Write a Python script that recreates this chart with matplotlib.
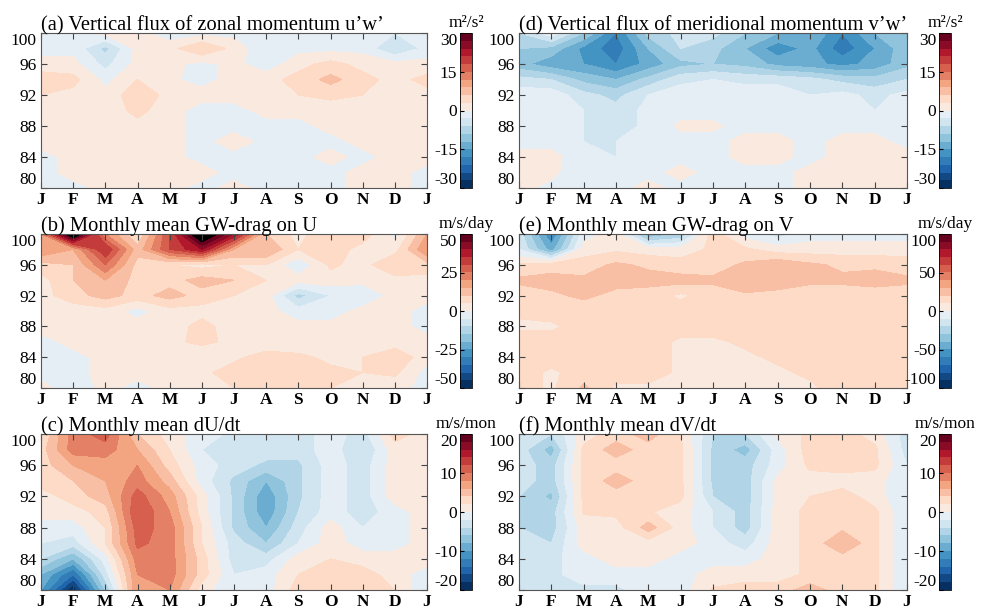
import numpy as np
import matplotlib
matplotlib.use('Agg')
from matplotlib import pyplot as plt
from matplotlib.colors import BoundaryNorm, ListedColormap
from matplotlib.cm import ScalarMappable

plt.rcParams['font.family'] = ['Liberation Serif', 'DejaVu Serif']

months = ['J', 'F', 'M', 'A', 'M', 'J', 'J', 'A', 'S', 'O', 'N', 'D', 'J']
heights = [100, 98, 96, 94, 92, 90, 88, 86, 84, 82, 80]   # rows top -> bottom

# (a) u'w'  [m2/s2]
uw = [
    [-3, -1, 1, 1, -2, -1, -1, -3, -1, -1, -1, -3, -2],
    [-1, -1, -7, 1, 2, 6, 2, -3, -1, -1, -1, -6, -2],
    [1, 1, -4, 1, 1, -1, 1, -2, 2, 4, 2, 1, 1],
    [5, 4, -1, 3, 0.5, -1, 1, 2, 4, 7, 4, 2, 4],
    [3, 2, 1, 5, 2, 1, 1, 1, 3, 4, 3, 1, 2],
    [2, 1, 1, 4, 1, -1, -1, 1, 1, 1, 1, 1, 3],
    [1, 1, 1, 2, 1, -1, -1, -1, -1, 1, 1, 1, 1],
    [1, 1, 1, 1, 1, -1, 1.5, -1, -1, -1, 1, 1, 1],
    [-1, 1, 1, 1, 1, -1, -1, -1, -1, 1, -1, 1, 1],
    [-1, 1, 1, 1, 1, 1, -1, -1, -1, -1, 1, 1, -1],
    [-1, -1, 1, 1, 1, -1, 1, -1, -1, -1, 1, 1, -1],
]

# (d) v'w'  [m2/s2]
vw = [
    [-6, -1, -9, -18, -8, -5, -5, -9, -12, -12, -18, -12, -9],
    [-9, -10, -16, -20, -12, -6, -8, -12, -17, -14, -20, -15, -10],
    [-11, -14, -15, -18, -14, -10, -9, -10, -13, -14, -16, -14, -10],
    [-5, -6, -10, -12, -8, -4, -3, -4, -4, -5, -7, -8, -6],
    [-1, -1, -5, -7, -3, -1, -1, -1, -1, -3, -2, -4, -2],
    [-1, -1, -3, -5, -2, -1, -1, -1, -1, -1, -1, -3, -1],
    [-1, -1, -3, -5, -2, 0.5, 0.5, -1, -1, -1, -1, -1, -1],
    [-1, -1, -3, -3, -1, -1, -1, 1, 1, -1, 1, 1, -1],
    [1, 1, -2, -3, -1, -1, -1, 1, 1, -1, 1, 1, 1],
    [1, 1, -3, -1, -1, 1, -1, -1, -1, 1, 1, 1, 1],
    [1, -1, -3, -1, 1, -1, -1, -1, -1, 1, 1, 1, 1],
]

# (b) GW-drag on U  [m/s/day]
gwu = [
    [20, 60, 20, 5, 30, 60, 40, 10, 3, 10, 8, -2, 15],
    [20, 15, 35, 12, 30, 40, 15, 15, 5, 8, 3, 3, 20],
    [8, 10, 25, 8, 5, 3, 5, 5, -4, 6, 3, 10, 8],
    [3, 10, 15, 8, 8, 12, 10, 5, 2, 3, 2, 3, 3],
    [3, 8, 12, 8, 12, 8, 5, 2, -12, -5, -5, 2, 2],
    [2, 2, 3, -2, 3, 3, 2, 2, -3, -3, 2, 2, -2],
    [2, 2, 2, 2, 2, 7, 2, 2, 2, 2, 2, 2, -2],
    [-2, 2, 2, 2, 4, 6, 4, 2, 2, 5, 2, 2, 2],
    [-2, -2, 2, 2, 2, 2, 4, 7, 6, 4, 5, 9, 2],
    [-2, -2, 2, 2, 2, 4, 7, 7, 7, 6, 5, 6, -2],
    [2, -4, 2, -2, 2, 2, 5, 9, 6, 5, 5, 2, -2],
]

# (e) GW-drag on V  [m/s/day]
gwv = [
    [-15, -60, -5, 5, -40, -30, 15, -5, -15, -5, -5, -5, -5],
    [-10, -45, 5, 8, 5, 5, 12, 12, 5, 5, 5, 5, 5],
    [12, 15, 15, 22, 18, 14, 15, 22, 28, 22, 18, 18, 15],
    [22, 24, 22, 24, 24, 24, 22, 29, 25, 22, 22, 24, 22],
    [15, 18, 22, 17, 15, 8, 15, 18, 17, 15, 15, 15, 15],
    [12, 15, 15, 15, 15, 15, 15, 15, 15, 15, 15, 15, 15],
    [8, 8, 15, 15, 15, 15, 15, 15, 15, 15, 15, 15, 15],
    [15, 15, 15, 15, 15, 8, 8, 12, 15, 15, 15, 15, 15],
    [15, 15, 15, 15, 15, 8, 8, 8, 12, 15, 15, 15, 15],
    [15, 8, 15, 15, 15, 8, 8, 8, 8, 12, 15, 15, 15],
    [15, 8, 22, 8, 8, 8, 8, 8, 8, 8, 15, 15, 15],
]

# (c) dU/dt  [m/s/mon]
dudt = [
    [2, 9, 11, 4, 1, -1, -2.5, -3, -3, -1, -3, 3, 1],
    [3, 9, 9, 6, 2, -2, -2.5, -3, -3, -1, -4, 1, 1],
    [3, 6, 7, 8, 3, -1, -3, -4.5, -4.5, -1, -3, 1, 1],
    [3, 4, 6, 9, 5, -1, -4.5, -8, -4.5, -1, -3, 1, 1],
    [1, 3, 5, 11, 7, 1, -4.5, -9.5, -4.5, -1, -3, 1, 1],
    [1, 1, 3, 12, 8, 1, -4.5, -9.5, -4, -1, -3, -1, 1],
    [-1, -1, 2, 11, 9, 2, -4.5, -8, -3, 1, -2, -1, 1],
    [-2, -3, 2, 10.5, 9, 2, -3, -6, -2, 1, -1, -1, 1],
    [-4, -8, -1, 9, 9, 3, -3, -3, 1, 2, 1, 1, 1],
    [-8, -14, -3, 8, 9, 3, -2, -1, 2, 3, 3, 1, -1],
    [-10, -20, -6, 8, 8, 1, -2, -1, 3, 4, 4, 2, -2],
]

# (f) dV/dt  [m/s/mon]
dvdt = [
    [-3, -4, 1, 3, 5, 2, -4, -4, 0.5, 2.5, 3, 1, -3],
    [-3, -7, 2.5, 5, 3, 2.5, -4.5, -7, -1, 3, 3, 2.5, -3],
    [-3, -5, 2.5, 3, 3, 2.5, -4.5, -5, -1, 2.5, 3, 2.5, -2],
    [-3, -5, 2.5, 5, 3, 2.5, -4.5, -5, 0.5, 1, 1, 1, -2],
    [-4, -6.5, 2.5, 3, 3, 2.5, -4, -5, 0.5, 2, 3, 1, -2],
    [-4, -5, 2.2, 2.5, 2.2, 1, -2, -5, 1, 2.5, 3, 2.5, -2],
    [-4, -5, 1, 1, 5, 1, -2, -5, 1, 2.5, 3.5, 2.5, -2],
    [-2.5, -4, 1, 1, 1, 1, -1, -3, 1, 2.5, 6, 2.5, -2],
    [-2.5, -2.5, -1, 1, 1, -1, -1, -1, 1, 2.5, 3, 2.5, -2],
    [-2.5, -2.5, -1, -1, -1, -1, 1, 1, 1, 2.5, 2.5, 2.5, -2],
    [-2.5, -2.5, -2.5, -2.5, -1, -1, 2.2, 3, 3, 5, 3, 2.5, -2],
]

panels = [
    ('(a) Vertical flux of zonal momentum u\u2019w\u2019', uw, 30, 15, 'm\u00b2/s\u00b2'),
    ('(d) Vertical flux of meridional momentum v\u2019w\u2019', vw, 30, 15, 'm\u00b2/s\u00b2'),
    ('(b) Monthly mean GW-drag on U', gwu, 50, 25, 'm/s/day'),
    ('(e) Monthly mean GW-drag on V', gwv, 100, 50, 'm/s/day'),
    ('(c) Monthly mean dU/dt', dudt, 20, 10, 'm/s/mon'),
    ('(f) Monthly mean dV/dt', dvdt, 20, 10, 'm/s/mon'),
]

W, H = 989, 615
fig = plt.figure(figsize=(W / 100, H / 100), dpi=100)

col_x = [(41, 427, 460, 472), (519, 907, 939, 951)]
row_y = [(33, 188), (234, 388), (434, 590)]

# 20-step red/blue map, first steps off white pushed a little away from the centre
base = plt.get_cmap('RdBu_r')
pos = np.concatenate([0.5 - 0.05 - 0.45 * np.arange(9, -1, -1) / 9,
                      0.5 + 0.05 + 0.45 * np.arange(10) / 9])
cmap = ListedColormap(base(pos))
cmap.set_over('black')
cmap.set_under('#02142e')

x = np.arange(len(months))
y = np.array(heights)


def pull_in_end_labels(labels):
    # first and last labels kept inside the axis span, as in the original
    labels[0].set_verticalalignment('bottom')
    labels[-1].set_verticalalignment('top')


for i, (title, data, vmax, tstep, unit) in enumerate(panels):
    r, c = divmod(i, 2)
    x0, x1, cx0, cx1 = col_x[c]
    y0, y1 = row_y[r]
    ax = fig.add_axes([x0 / W, 1 - y1 / H, (x1 - x0) / W, (y1 - y0) / H])
    levels = np.linspace(-vmax, vmax, 21)
    ax.contourf(x, y, np.array(data, dtype=float), levels=levels, cmap=cmap, extend='both')
    ax.set_xlim(0, 12)
    ax.set_ylim(80, 100)
    ax.set_xticks(x)
    ax.set_xticklabels(months, fontweight='bold')
    ax.set_yticks([80, 84, 88, 92, 96, 100])
    ax.set_yticklabels(['80', '84', '88', '92', '96', '100'])
    ax.tick_params(direction='in', top=True, right=True, labelsize=12.5, length=4, color='#444444', pad=3)
    pull_in_end_labels(ax.get_yticklabels())
    for sp in ax.spines.values():
        sp.set_color('#555555')
    ax.set_title(title, loc='left', fontsize=14.8, pad=2)

    cax = fig.add_axes([cx0 / W, 1 - y1 / H, (cx1 - cx0) / W, (y1 - y0) / H])
    sm = ScalarMappable(norm=BoundaryNorm(levels, 20), cmap=ListedColormap(base(pos)))
    cb = fig.colorbar(sm, cax=cax, ticks=[-vmax, -tstep, 0, tstep, vmax])
    cb.outline.set_linewidth(0.6)
    cax.minorticks_off()
    cax.yaxis.set_ticks_position('left')
    cax.tick_params(labelsize=12.5, length=3, direction='in', pad=2)
    cax.set_yticklabels([str(-vmax), str(-tstep), '0', str(tstep), str(vmax)])
    pull_in_end_labels(cax.get_yticklabels())
    cax.text(0.5, 1.01, unit, transform=cax.transAxes, ha='center', va='bottom', fontsize=12.5)

fig.savefig('out.png', dpi=100)
